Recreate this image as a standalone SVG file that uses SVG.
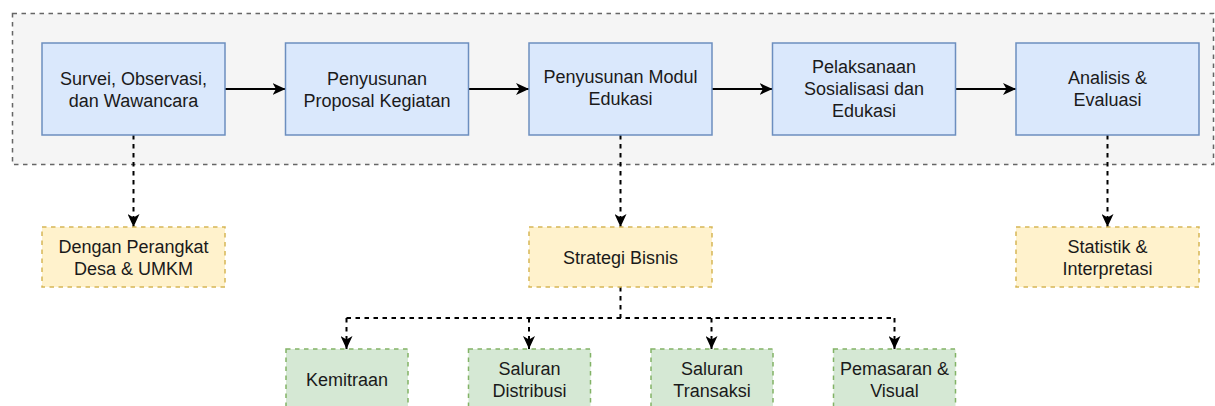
<svg xmlns="http://www.w3.org/2000/svg" width="1215" height="406" viewBox="0 0 1215 406">
<style>
  text { font-family: "Liberation Sans", Arial, sans-serif; font-size: 18px; fill: #1a1a1a; text-anchor: middle; }
  .container { fill: #f5f5f5; stroke: #666666; stroke-width: 1.5; stroke-dasharray: 4.5 4.5; }
  .blue { fill: #dae8fc; stroke: #6c8ebf; stroke-width: 1.5; }
  .yellow { fill: #fff2cc; stroke: #d6b656; stroke-width: 1.5; stroke-dasharray: 4.5 4.5; }
  .green { fill: #d5e8d4; stroke: #82b366; stroke-width: 1.5; stroke-dasharray: 4.5 4.5; }
  .solid { fill: none; stroke: #000; stroke-width: 2; marker-end: url(#arrow); }
  .dashed { fill: none; stroke: #000; stroke-width: 2; stroke-dasharray: 4.5 4.5; marker-end: url(#arrow); }
  .dashed-plain { fill: none; stroke: #000; stroke-width: 2; stroke-dasharray: 4.5 4.5; }
</style>
<defs>
  <marker id="arrow" viewBox="0 0 13 12" refX="13" refY="6" markerWidth="13" markerHeight="12" markerUnits="userSpaceOnUse" orient="auto">
    <path d="M0,0 L13,6 L0,12 L3.5,6 Z" fill="#000"/>
  </marker>
</defs>

<g id="container">
  <rect class="container" x="12.5" y="13.5" width="1201" height="151"/>
</g>

<g id="connectors">
  <line class="solid" x1="225" y1="89" x2="285.5" y2="89"/>
  <line class="solid" x1="468.5" y1="89" x2="529" y2="89"/>
  <line class="solid" x1="712" y1="89" x2="772.5" y2="89"/>
  <line class="solid" x1="955.5" y1="89" x2="1016" y2="89"/>
  <line class="dashed" x1="133.5" y1="135" x2="133.5" y2="227"/>
  <line class="dashed" x1="620.5" y1="135" x2="620.5" y2="227"/>
  <line class="dashed" x1="1107.5" y1="135" x2="1107.5" y2="227"/>
  <polyline class="dashed-plain" points="620.5,287 620.5,318"/>
  <polyline class="dashed-plain" points="346.5,318 894.5,318"/>
  <line class="dashed" x1="346.5" y1="318" x2="346.5" y2="349"/>
  <line class="dashed" x1="529" y1="318" x2="529" y2="349"/>
  <line class="dashed" x1="711.5" y1="318" x2="711.5" y2="349"/>
  <line class="dashed" x1="894.5" y1="318" x2="894.5" y2="349"/>
</g>

<g id="survei">
  <rect class="blue" x="42" y="43" width="183" height="92"/>
  <text x="133.5" y="85">Survei, Observasi,</text>
  <text x="133.5" y="107">dan Wawancara</text>
</g>
<g id="proposal">
  <rect class="blue" x="285.5" y="43" width="183" height="92"/>
  <text x="377" y="85">Penyusunan</text>
  <text x="377" y="107">Proposal Kegiatan</text>
</g>
<g id="modul">
  <rect class="blue" x="529" y="43" width="183" height="92"/>
  <text x="620.5" y="83">Penyusunan Modul</text>
  <text x="620.5" y="105">Edukasi</text>
</g>
<g id="pelaksanaan">
  <rect class="blue" x="772.5" y="43" width="183" height="92"/>
  <text x="864" y="73">Pelaksanaan</text>
  <text x="864" y="95">Sosialisasi dan</text>
  <text x="864" y="117">Edukasi</text>
</g>
<g id="analisis">
  <rect class="blue" x="1016" y="43" width="183" height="92"/>
  <text x="1107.5" y="84">Analisis &amp;</text>
  <text x="1107.5" y="106">Evaluasi</text>
</g>

<g id="dengan">
  <rect class="yellow" x="42" y="227" width="183" height="60"/>
  <text x="133.5" y="253">Dengan Perangkat</text>
  <text x="133.5" y="275">Desa &amp; UMKM</text>
</g>
<g id="strategi">
  <rect class="yellow" x="529" y="227" width="183" height="60"/>
  <text x="620.5" y="263.5">Strategi Bisnis</text>
</g>
<g id="statistik">
  <rect class="yellow" x="1016" y="227" width="183" height="60"/>
  <text x="1107.5" y="253">Statistik &amp;</text>
  <text x="1107.5" y="275">Interpretasi</text>
</g>

<g id="kemitraan">
  <rect class="green" x="286" y="349" width="122" height="60"/>
  <text x="347" y="385.5">Kemitraan</text>
</g>
<g id="distribusi">
  <rect class="green" x="468.5" y="349" width="122" height="60"/>
  <text x="529.5" y="374.5">Saluran</text>
  <text x="529.5" y="396.5">Distribusi</text>
</g>
<g id="transaksi">
  <rect class="green" x="651" y="349" width="122" height="60"/>
  <text x="712" y="374.5">Saluran</text>
  <text x="712" y="396.5">Transaksi</text>
</g>
<g id="pemasaran">
  <rect class="green" x="833.5" y="349" width="122" height="60"/>
  <text x="894.5" y="374.5">Pemasaran &amp;</text>
  <text x="894.5" y="396.5">Visual</text>
</g>
</svg>
